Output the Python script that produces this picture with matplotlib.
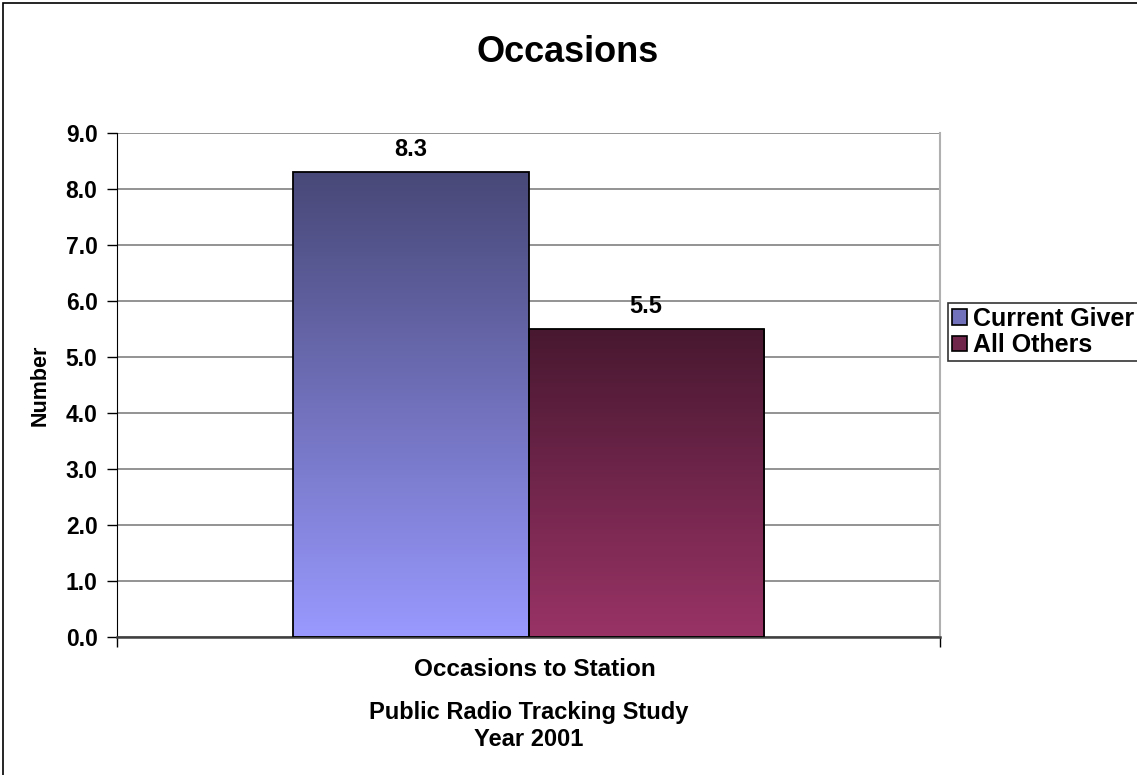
import numpy as np
import matplotlib
matplotlib.use("Agg")
import matplotlib.pyplot as plt
from matplotlib.colors import LinearSegmentedColormap, to_rgb
from matplotlib.patches import Rectangle

plt.rcParams['font.family'] = ['Liberation Sans', 'DejaVu Sans']
plt.rcParams['font.weight'] = 'bold'

# data
category = 'Occasions to Station'
series = ['Current Giver', 'All Others']
values = [8.3, 5.5]
base_colours = ['#9999FF', '#993366']
yticks = np.arange(0, 9.5, 1.0)

W, H = 1137, 775
fig = plt.figure(figsize=(W / 100, H / 100), dpi=100)

# outer chart border (only left/top edges are inside the picture)
fig.patches.append(Rectangle((3 / W, -0.1), 1.2, (H - 3) / H + 0.1, transform=fig.transFigure,
                             fill=False, edgecolor='black', linewidth=1.2))

ax = fig.add_axes([117 / W, (H - 637) / H, (940 - 117) / W, (637 - 133) / H])

n = len(values)
bw = 1.0 / (n + 1.5)          # excel gap width 150%
start = 0.5 - n * bw / 2

grad = np.linspace(0, 1, 256).reshape(-1, 1)
handles = []
for i, (name, v, c) in enumerate(zip(series, values, base_colours)):
    x0 = start + i * bw
    base = np.array(to_rgb(c))
    dark = base * 0.47
    cmap = LinearSegmentedColormap.from_list(name, [base, dark])
    ax.imshow(grad, cmap=cmap, extent=[x0, x0 + bw, 0, v], origin='lower',
              aspect='auto', zorder=2, interpolation='bilinear')
    ax.add_patch(Rectangle((x0, 0), bw, v, fill=False, edgecolor='black', linewidth=1.3, zorder=3))
    ax.text(x0 + bw / 2, v + 0.2, f'{v:.1f}', ha='center', va='bottom', fontsize=17,
            fontweight='bold', zorder=4)
    mid = (base + dark) / 2
    handles.append(Rectangle((0, 0), 1, 1, facecolor=mid, edgecolor='black', linewidth=1.2))

ax.set_xlim(0, 1)
ax.set_ylim(0, 9)
ax.set_yticks(yticks)
ax.set_yticklabels([f'{t:.1f}' for t in yticks], fontsize=16.5, fontweight='bold')
ax.yaxis.grid(True, color='#808080', linewidth=1.2, zorder=0)
ax.set_axisbelow(True)
ax.tick_params(axis='y', length=7, width=1, color='black', pad=7, direction='out')
ax.set_xticks([0, 1])
ax.set_xticklabels(['', ''])
ax.tick_params(axis='x', length=7, width=1, color='black')

ax.spines['top'].set_visible(False)
ax.spines['right'].set_color('#b0b0b0')
ax.spines['right'].set_linewidth(1.5)
ax.spines['left'].set_color('black')
ax.spines['bottom'].set_color('#404040')
ax.spines['bottom'].set_linewidth(1.8)

fig.text(40 / W, 1 - 385 / H, 'Number', ha='center', va='center', rotation=90,
         fontsize=15.5, fontweight='bold')

fig.text(568 / W, 1 - 52 / H, 'Occasions', ha='center', va='center', fontsize=26, fontweight='bold')
fig.text(535 / W, 1 - 670 / H, category, ha='center', va='center', fontsize=17.5, fontweight='bold')
fig.text(529 / W, 1 - 712 / H, 'Public Radio Tracking Study', ha='center', va='center',
         fontsize=17, fontweight='bold')
fig.text(529 / W, 1 - 739 / H, 'Year 2001', ha='center', va='center', fontsize=17, fontweight='bold')

leg = fig.legend(handles, series, loc='upper left', bbox_to_anchor=(948 / W, 1 - 303 / H),
                 frameon=True, fancybox=False, edgecolor='black', fontsize=18,
                 handlelength=0.6, handleheight=0.6, handletextpad=0.25,
                 borderpad=0.15, labelspacing=0.1, borderaxespad=0)
leg.get_frame().set_linewidth(1.2)
for t in leg.get_texts():
    t.set_fontweight('bold')

fig.savefig('out.png', dpi=100)
